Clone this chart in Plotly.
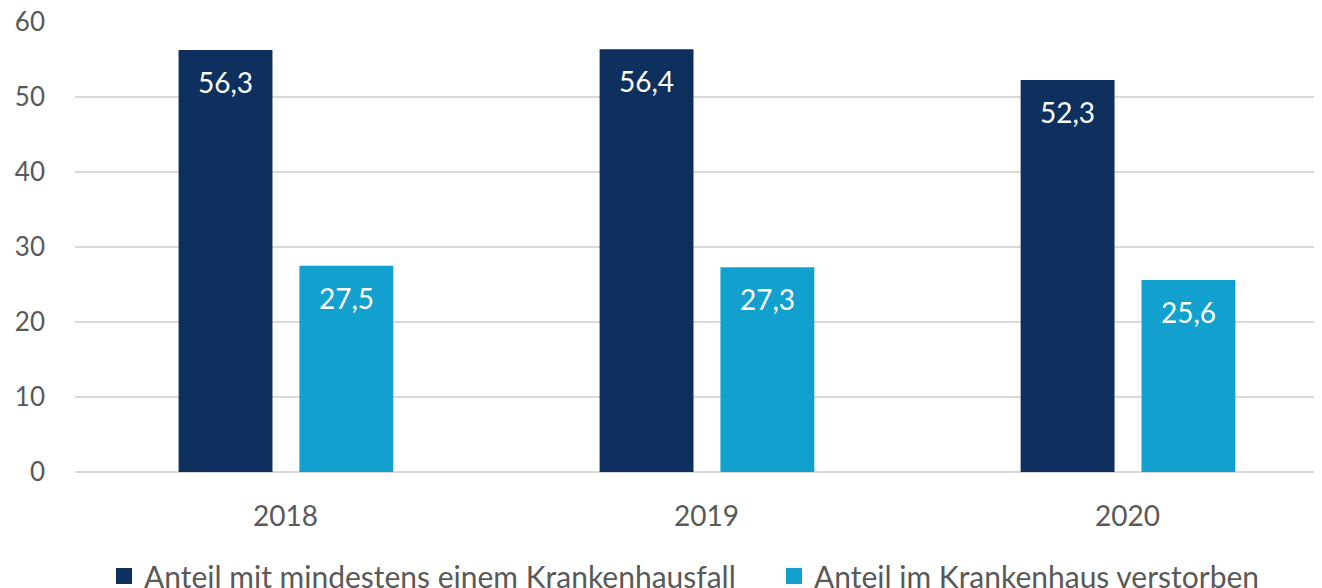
import plotly.graph_objects as go

years = ["2018", "2019", "2020"]
anteil_krankenhausfall = [56.3, 56.4, 52.3]
anteil_verstorben = [27.5, 27.3, 25.6]
series_names = ["Anteil mit mindestens einem Krankenhausfall", "Anteil im Krankenhaus verstorben"]
y_ticks = [0, 10, 20, 30, 40, 50, 60]

DARK = "#0E305E"
LIGHT = "#12A1CF"
GREY = "#595959"
FONT = "Lato, 'Open Sans', sans-serif"

xs = list(range(len(years)))
W = 0.223
OFF = [-0.254, 0.033]

fig = go.Figure()
series = [(anteil_krankenhausfall, series_names[0], DARK, OFF[0], "legend"),
          (anteil_verstorben, series_names[1], LIGHT, OFF[1], "legend2")]
for vals, name, col, off, lg in series:
    fig.add_trace(go.Bar(x=xs, y=vals, name=name, marker_color=col, marker_line_width=0,
                         width=W, offset=off, showlegend=False))
    # legend proxy with a larger square symbol
    fig.add_trace(go.Scatter(x=[None], y=[None], mode="markers", name=name, legend=lg,
                             marker=dict(symbol="square", size=16, color=col, line_width=0)))
    for x, v in zip(xs, vals):
        fig.add_annotation(x=x + off + W / 2, y=v, yshift=-32, text=f"{v:.1f}".replace(".", ","),
                           showarrow=False, font=dict(color="white", size=28, family=FONT))

legend_common = dict(orientation="h", xref="container", yref="container", xanchor="left",
                     yanchor="middle", y=0.034, font=dict(size=30, color=GREY, family=FONT),
                     itemsizing="trace", bgcolor="rgba(0,0,0,0)")

fig.update_layout(
    width=1322, height=588,
    margin=dict(l=67, r=10, t=14, b=124, autoexpand=False),
    plot_bgcolor="white", paper_bgcolor="white",
    barmode="overlay",
    separators=",.",
    font=dict(family=FONT, color=GREY, size=26),
    showlegend=True,
    legend=dict(x=96 / 1322, **legend_common),
    legend2=dict(x=766 / 1322, **legend_common),
    xaxis=dict(range=[-0.5, 2.457], tickvals=xs, ticktext=years, showgrid=False,
               zeroline=False, showline=False, ticks="", automargin=False,
               ticklabelstandoff=25, tickfont=dict(size=28, color=GREY)),
    yaxis=dict(range=[0, 60.02], tickvals=y_ticks, showgrid=True, gridcolor="#D9D9D9", gridwidth=1.5,
               zeroline=True, zerolinecolor="#D9D9D9", zerolinewidth=1.5, automargin=False,
               ticklabeloverflow="allow",
               ticks="", ticklabelstandoff=29, tickfont=dict(size=26, color=GREY)),
)
fig.write_html("out.html")
